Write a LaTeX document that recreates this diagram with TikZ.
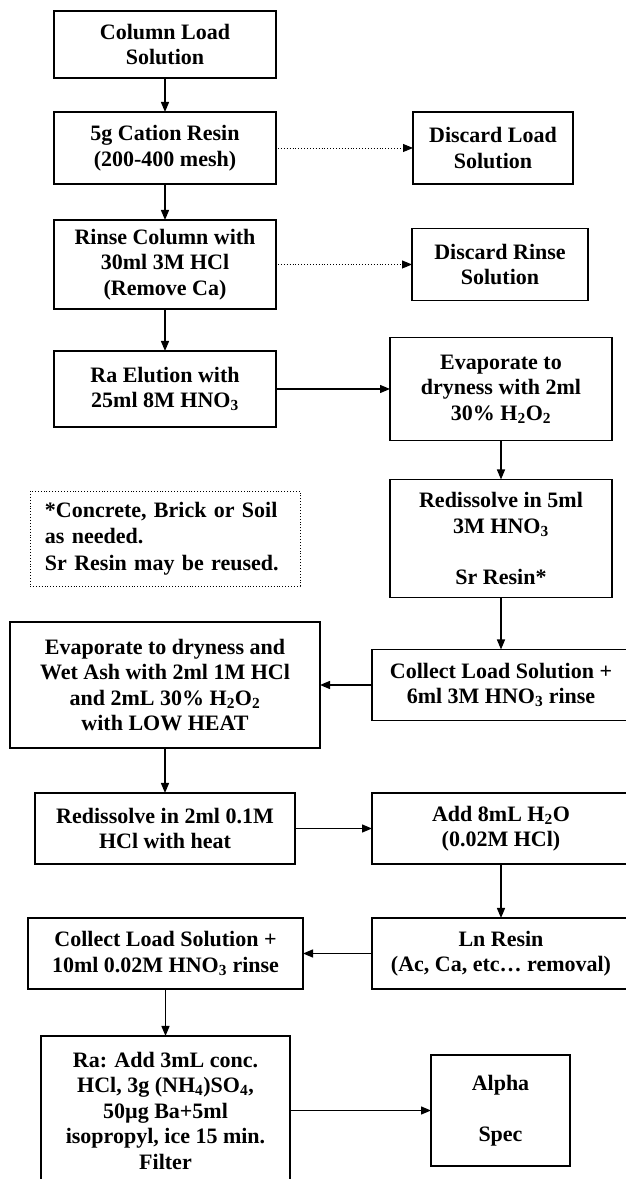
\documentclass[tikz,border=0pt]{standalone}
\usepackage{fontspec}
\setmainfont{Liberation Serif}
\usepackage{tikz}
\usetikzlibrary{arrows.meta}
\usetikzlibrary{positioning}

\tikzset{
	stepbox/.style={draw, line width=1.6pt, align=center, inner sep=2pt, outer sep=0pt,
		font=\fontsize{22}{25.5}\selectfont\bfseries},
	notebox/.style={draw, dotted, line width=0.9pt, align=left, text width=240pt,
		inner xsep=15pt, outer sep=0pt, font=\fontsize{22}{26.5}\selectfont\bfseries},
	flow/.style={-{Triangle[length=10pt,width=8pt]}, line width=1.3pt},
	discard/.style={-{Triangle[length=10pt,width=8pt]}, line width=0.9pt, dotted}
}

\begin{document}
\begin{tikzpicture}[x=1pt, y=1pt]
	\useasboundingbox (0,0) rectangle (625,1179);
	% left column, top part
	\node[stepbox, minimum width=222pt, minimum height=67pt] (load) at (165,1134.5) {Column Load\\Solution};
	\node[stepbox, minimum width=222pt, minimum height=72pt] (cation) [below=34pt of load] {5g Cation Resin\\(200-400 mesh)};
	\node[stepbox, minimum width=222pt, minimum height=89pt] (rinse) [below=36pt of cation] {Rinse Column with\\30ml 3M HCl\\(Remove Ca)};
	\node[stepbox, minimum width=222pt, minimum height=76pt] (elution) [below=42pt of rinse] {Ra Elution with\\25ml 8M HNO\textsubscript{3}};
	\node[notebox, minimum height=95pt] (note) [below=64pt of elution] {*Concrete, Brick or Soil\\as needed.\\Sr Resin may be reused.};
	
	% discards
	\node[stepbox, minimum width=160pt, minimum height=72pt] (discardLoad) [right=137pt of cation] {Discard Load\\Solution};
	\node[stepbox, minimum width=176pt, minimum height=72pt] (discardRinse) [right=136pt of rinse] {Discard Rinse\\Solution};
	
	% right column
	\node[stepbox, minimum width=222pt, minimum height=103pt] (evaporate) [right=114pt of elution] {Evaporate to\\dryness with 2ml\\30\% H\textsubscript{2}O\textsubscript{2}};
	\node[stepbox, minimum width=222pt, minimum height=118pt] (srResin) [below=39pt of evaporate] {Redissolve in 5ml\\3M HNO\textsubscript{3}\\[25.5pt]Sr Resin*};
	\node[stepbox, minimum width=258pt, minimum height=71pt] (collectSr) [below=52pt of srResin] {Collect Load Solution +\\6ml 3M HNO\textsubscript{3} rinse};
	
	% back to the left
	\node[stepbox, minimum width=310pt, minimum height=126pt] (wetAsh) [left=52pt of collectSr] {Evaporate to dryness and\\Wet Ash with 2ml 1M HCl\\and 2mL 30\% H\textsubscript{2}O\textsubscript{2}\\with LOW HEAT};
	\node[stepbox, minimum width=260pt, minimum height=71pt] (redissolve) [below=45pt of wetAsh] {Redissolve in 2ml 0.1M\\HCl with heat};
	\node[stepbox, minimum width=258pt, minimum height=71pt] (addWater) [right=77pt of redissolve] {Add 8mL H\textsubscript{2}O\\(0.02M HCl)};
	\node[stepbox, minimum width=258pt, minimum height=71pt] (lnResin) [below=54pt of addWater] {Ln Resin\\(Ac, Ca, etc… removal)};
	\node[stepbox, minimum width=275pt, minimum height=71pt] (collectLn) [left=69pt of lnResin] {Collect Load Solution +\\10ml 0.02M HNO\textsubscript{3} rinse};
	\node[stepbox, minimum width=249pt, minimum height=149pt] (radium) [below=47pt of collectLn] {Ra: Add 3mL conc.\\HCl, 3g (NH\textsubscript{4})SO\textsubscript{4},\\50µg Ba+5ml\\isopropyl, ice 15 min.\\Filter};
	\node[stepbox, minimum width=139pt, minimum height=111pt] (alpha) [right=141pt of radium] {Alpha\\[25.5pt]Spec};
	
	\draw[flow] (load) -- (cation);
	\draw[flow] (cation) -- (rinse);
	\draw[flow] (rinse) -- (elution);
	\draw[discard, shorten <=2pt] (cation) -- (discardLoad);
	\draw[discard, shorten <=2pt] (rinse) -- (discardRinse);
	\draw[flow] (elution) -- (evaporate);
	\draw[flow] (evaporate) -- (srResin);
	\draw[flow] (srResin) -- (collectSr);
	\draw[flow] (collectSr) -- (wetAsh);
	\draw[flow] (wetAsh) -- (redissolve);
	\draw[flow] (redissolve) -- (addWater);
	\draw[flow] (addWater) -- (lnResin);
	\draw[flow] (lnResin) -- (collectLn);
	\draw[flow] (collectLn) -- (radium);
	\draw[flow] (radium) -- (alpha);
\end{tikzpicture}
\end{document}
